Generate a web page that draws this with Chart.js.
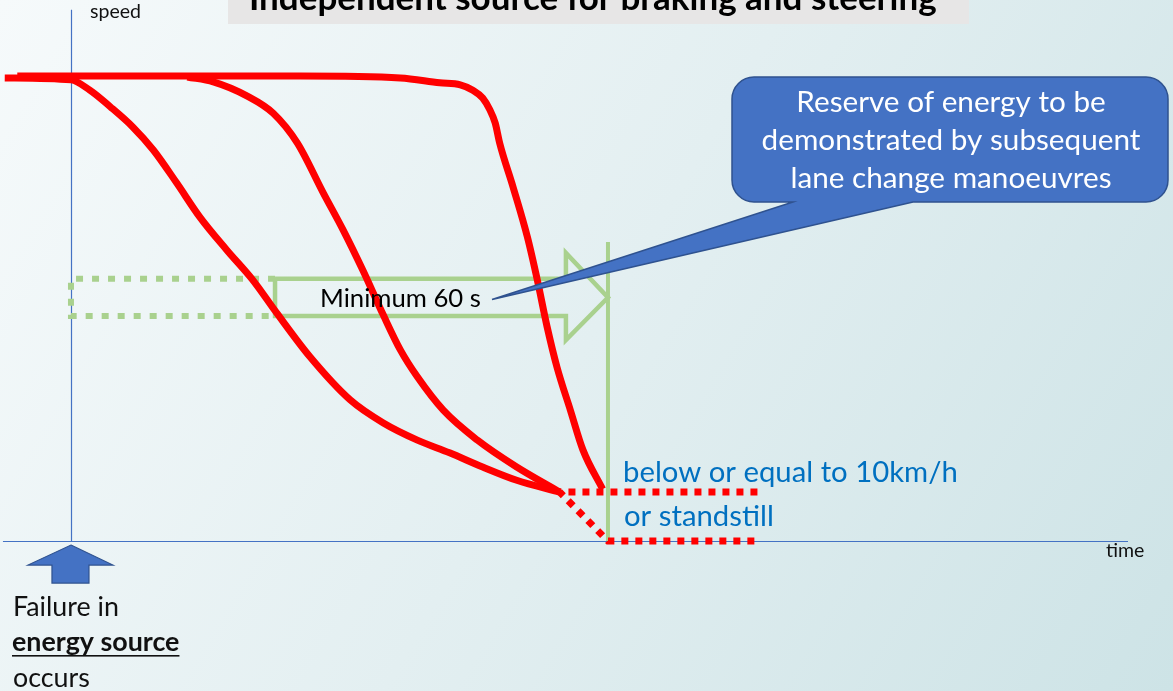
<!DOCTYPE html>
<html>
<head>
<meta charset="utf-8">
<script src="https://cdn.jsdelivr.net/npm/chart.js@4.4.1/dist/chart.umd.min.js"></script>
<style>
  html, body { margin: 0; padding: 0; overflow: hidden; background: #eaf3f4; }
  canvas { display: block; }
</style>
</head>
<body>
<canvas id="c" width="1173" height="691"></canvas>
<script>
// Vehicle speed (km/h) against time (s) after the energy source fails at t = 0
const earlyTime  = [-7.4, 0, 2.1, 4.4, 6.9, 9.2, 11.8, 14.4, 17.4, 20.3, 23.0, 26.7, 31.2, 34.9, 38.7, 42.3, 46.0, 49.8, 54.6];
const earlySpeed = [94.5, 94.1, 92.0, 88.6, 84.5, 79.8, 73.1, 66.1, 59.4, 53.3, 46.5, 37.6, 28.8, 24.1, 20.6, 18.0, 15.1, 12.4, 10];

const midTime  = [13.0, 15.9, 19.7, 22.6, 25.3, 28.2, 30.4, 32.6, 34.9, 36.8, 38.7, 41.6, 45.4, 49.8, 54.6];
const midSpeed = [94.7, 93.7, 90.8, 87.3, 81.2, 71.0, 63.5, 55.3, 46.1, 39.0, 33.5, 26.7, 20.6, 15.1, 10];

const lateTime  = [-6.0, 13.3, 25.6, 36.8, 41.2, 43.5, 44.9, 46.0, 46.8, 47.4, 47.9, 49.4, 51.0, 52.1, 53.2, 54.3, 55.8, 57.2, 59.4];
const lateSpeed = [94.9, 94.9, 94.9, 94.5, 93.5, 93.1, 92.0, 90.4, 88.0, 85.3, 81.2, 72.2, 62.0, 53.3, 43.7, 35.5, 26.7, 18.6, 10.6];

// End state: at or below 10 km/h, or standstill
const endZoneTime  = [76.7, 54.6, 60, 76.7];
const endZoneSpeed = [10, 10, 0, 0];

// Minimum duration window (s) and the band the arrow is drawn in (km/h)
const windowTime  = [0, 22.8, 55.3, 60];   // start, solid part, arrow head, end
const windowSpeed = [41.0, 45.9, 49.7, 53.5, 58.8]; // head low, body low, centre, body high, head high
const windowMarkerTop = 61;

// Visible extent of the plot
const timeRange  = [-7.93, 123.13];
const speedRange = [-30.6, 110.4];

const pts = (xs, ys) => xs.map((x, i) => ({ x, y: ys[i] }));
const [wStart, wSolid, wHead, wEnd] = windowTime;
const [hLow, bLow, mid, bHigh, hHigh] = windowSpeed;

const RED = '#ff0000';
const GREEN = '#a9d18e';
const BLUE = '#4472c4';
const BLUE_EDGE = '#2f528f';
const FONT = 'Lato, "Open Sans", sans-serif';

function fitSize(ctx, text, width, weight) {
  ctx.font = `${weight} 100px ${FONT}`;
  return 100 * width / ctx.measureText(text).width;
}
function drawText(ctx, text, x, y, size, weight, color, align) {
  ctx.font = `${weight} ${size}px ${FONT}`;
  ctx.fillStyle = color;
  ctx.textAlign = align || 'left';
  ctx.textBaseline = 'alphabetic';
  ctx.fillText(text, x, y);
}

const decor = {
  id: 'decor',
  beforeDraw(chart) {
    const ctx = chart.ctx, W = chart.width, H = chart.height;
    ctx.save();
    const g = ctx.createLinearGradient(0, 0, W, H);
    g.addColorStop(0, '#f6fafb');
    g.addColorStop(0.5, '#e3eff1');
    g.addColorStop(1, '#cde3e6');
    ctx.fillStyle = g;
    ctx.fillRect(0, 0, W, H);
    // title banner
    ctx.fillStyle = '#e7e6e6';
    ctx.fillRect(228, 0, 741, 24);
    ctx.restore();
  },
  beforeDatasetsDraw(chart) {
    const ctx = chart.ctx, xs = chart.scales.x, ys = chart.scales.y;
    const x0 = Math.round(xs.getPixelForValue(0)) + 0.5;
    const y0 = Math.round(ys.getPixelForValue(0)) + 0.5;
    ctx.save();
    ctx.strokeStyle = BLUE;
    ctx.lineWidth = 1.2;
    ctx.beginPath();
    ctx.moveTo(x0, ys.getPixelForValue(108.4));
    ctx.lineTo(x0, y0);
    ctx.moveTo(xs.getPixelForValue(-7.6), y0);
    ctx.lineTo(xs.getPixelForValue(118.1), y0);
    ctx.stroke();
    ctx.restore();
  },
  afterDatasetsDraw(chart) {
    const ctx = chart.ctx, xs = chart.scales.x, ys = chart.scales.y;
    const X = v => xs.getPixelForValue(v), Y = v => ys.getPixelForValue(v);
    ctx.save();

    // callout box with its pointer
    const bx0 = 732, by0 = 77, bx1 = 1168, by1 = 202, r = 22;
    const tipX = 492, tipY = Y(mid) + 2;
    ctx.beginPath();
    ctx.moveTo(bx0 + r, by0);
    ctx.arcTo(bx1, by0, bx1, by1, r);
    ctx.arcTo(bx1, by1, bx0, by1, r);
    ctx.lineTo(913, by1);
    ctx.lineTo(tipX, tipY);
    ctx.lineTo(793, by1);
    ctx.arcTo(bx0, by1, bx0, by0, r);
    ctx.arcTo(bx0, by0, bx1, by0, r);
    ctx.closePath();
    ctx.fillStyle = BLUE;
    ctx.fill();
    ctx.strokeStyle = BLUE_EDGE;
    ctx.lineWidth = 1.5;
    ctx.stroke();

    const cs = fitSize(ctx, 'demonstrated by subsequent', 379, 'normal');
    drawText(ctx, 'Reserve of energy to be', 951, 112, cs, 'normal', '#ffffff', 'center');
    drawText(ctx, 'demonstrated by subsequent', 951, 150, cs, 'normal', '#ffffff', 'center');
    drawText(ctx, 'lane change manoeuvres', 951, 188, cs, 'normal', '#ffffff', 'center');

    // failure marker arrow under the time axis
    const ax = X(0), ay = Y(0) + 4;
    ctx.beginPath();
    ctx.moveTo(ax, ay);
    ctx.lineTo(ax + 42, ay + 20);
    ctx.lineTo(ax + 18, ay + 20);
    ctx.lineTo(ax + 18, ay + 38);
    ctx.lineTo(ax - 19, ay + 38);
    ctx.lineTo(ax - 19, ay + 20);
    ctx.lineTo(ax - 43, ay + 20);
    ctx.closePath();
    ctx.fillStyle = BLUE;
    ctx.fill();
    ctx.strokeStyle = BLUE_EDGE;
    ctx.lineWidth = 1.2;
    ctx.stroke();

    // title
    const ts = fitSize(ctx, 'Independent source for braking and steering', 688, 'bold');
    drawText(ctx, 'Independent source for braking and steering', 249, 10, ts, 'bold', '#000000');

    // axis names
    const as = fitSize(ctx, 'speed', 51, 'normal');
    drawText(ctx, 'speed', 90, 18, as, 'normal', '#111111');
    drawText(ctx, 'time', 1106, 557, as, 'normal', '#111111');

    // duration label
    const ms = fitSize(ctx, 'Minimum 60 s', 161, 'normal');
    drawText(ctx, 'Minimum 60 s', 320, 307, ms, 'normal', '#000000');

    // end-state labels
    const es = fitSize(ctx, 'below or equal to 10km/h', 335, 'normal');
    drawText(ctx, 'below or equal to 10km/h', 623, 482, es, 'normal', '#0070c0');
    drawText(ctx, 'or standstill', 624, 526, es, 'normal', '#0070c0');

    // failure caption
    const fs = fitSize(ctx, 'Failure in', 106, 'normal');
    drawText(ctx, 'Failure in', 13, 616, fs, 'normal', '#111111');
    drawText(ctx, 'energy source', 12, 651, fs, 'bold', '#111111');
    ctx.font = `bold ${fs}px ${FONT}`;
    const uw = ctx.measureText('energy source').width;
    ctx.fillStyle = '#111111';
    ctx.fillRect(12, 655, uw, 1.6);
    drawText(ctx, 'occurs', 13, 687, fs, 'normal', '#111111');

    ctx.restore();
  }
};

const curveStyle = {
  borderColor: RED,
  borderWidth: 7,
  pointRadius: 0,
  fill: false,
  cubicInterpolationMode: 'monotone',
  borderCapStyle: 'butt',
  order: 0
};

new Chart(document.getElementById('c'), {
  type: 'line',
  data: {
    datasets: [
      Object.assign({ label: 'early braking', data: pts(earlyTime, earlySpeed) }, curveStyle),
      Object.assign({ label: 'intermediate braking', data: pts(midTime, midSpeed) }, curveStyle),
      Object.assign({ label: 'late braking', data: pts(lateTime, lateSpeed) }, curveStyle),
      {
        label: 'end state',
        data: pts(endZoneTime, endZoneSpeed),
        borderColor: RED, borderWidth: 7, borderDash: [7, 7],
        pointRadius: 0, tension: 0, borderJoinStyle: 'miter', order: 1
      },
      {
        label: 'window end',
        data: [{ x: wEnd, y: 0 }, { x: wEnd, y: windowMarkerTop }],
        borderColor: GREEN, borderWidth: 4, pointRadius: 0, tension: 0, order: 4
      },
      {
        label: 'minimum window',
        data: [
          { x: wSolid, y: bHigh }, { x: wHead, y: bHigh }, { x: wHead, y: hHigh },
          { x: wEnd, y: mid }, { x: wHead, y: hLow }, { x: wHead, y: bLow },
          { x: wSolid, y: bLow }, { x: wSolid, y: bHigh }
        ],
        borderColor: GREEN, borderWidth: 4.5, pointRadius: 0, tension: 0,
        borderJoinStyle: 'miter', order: 3
      },
      {
        label: 'window start',
        data: [
          { x: wSolid, y: bHigh }, { x: wStart, y: bHigh },
          { x: wStart, y: bLow }, { x: wSolid, y: bLow }
        ],
        borderColor: GREEN, borderWidth: 6, borderDash: [7, 9], pointRadius: 0,
        tension: 0, borderJoinStyle: 'miter', order: 3
      }
    ]
  },
  options: {
    responsive: false,
    devicePixelRatio: 1,
    animation: false,
    layout: { padding: 0 },
    events: [],
    scales: {
      x: { type: 'linear', min: timeRange[0], max: timeRange[1], display: false },
      y: { type: 'linear', min: speedRange[0], max: speedRange[1], display: false }
    },
    plugins: {
      legend: { display: false },
      tooltip: { enabled: false },
      title: { display: false }
    }
  },
  plugins: [decor]
});
</script>
</body>
</html>
